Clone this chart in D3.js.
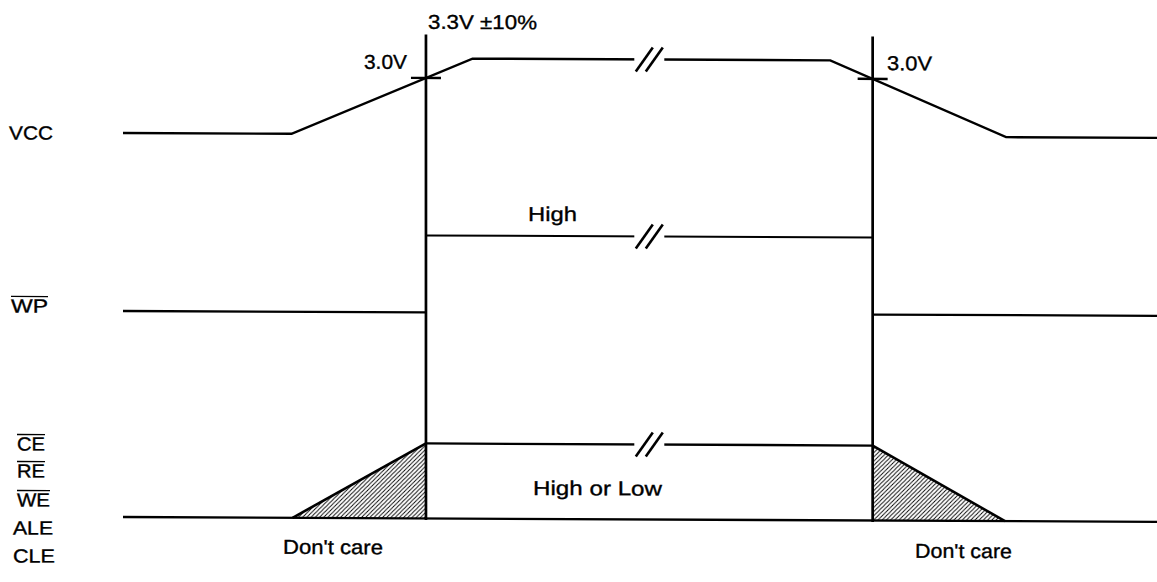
<!DOCTYPE html>
<html>
<head>
<meta charset="utf-8">
<script src="https://cdn.jsdelivr.net/npm/d3@7"></script>
<style>
body{margin:0;background:#fff}
svg text{font-family:"Liberation Sans",Arial,Helvetica,sans-serif;fill:#000;stroke:#000;stroke-width:0.35px}
</style>
</head>
<body>
<div id="chart"></div>
<script>
"use strict"
// signal names, and which ones carry an overbar (active low)
var signalNames=["VCC","WP","CE","RE","WE","ALE","CLE"]
var signalBarred=[false,true,true,true,true,false,false]

// time runs 0..100 (arbitrary units), levels are 0 = low, 1 = high
var powerOnT=29.3
var powerOffT=72.5
var breakT=50.9
var vccTimes=[0,16.3,33.8,68.4,85.4,100]
var vccLevels=[0,0,1,1,0,0]
var wpTimes=[[0,29.3],[29.3,72.5],[72.5,100]]
var wpLevels=[0,1,0]
var ctrlTimes=[[0,100],[29.3,72.5]]
var ctrlLevels=[0,1]
var dontCareTimes=[[16.4,29.3,29.3],[72.5,85.3,72.5]]
var dontCareLevels=[[0,1,0],[1,0,0]]
var annotations=["3.3V \u00b110%","3.0V","3.0V","High","High or Low","Don't care","Don't care"]

// layout
var W=1157,H=582
var rows={vcc:[133,57],wp:[311,234],ctrl:[517,442]}
var labelPos=[[9,140,44],[11,313,37],[17,451,28],[17,478,28],[17,507,33],[13,535,40],[13,563,42]]
var annoPos=[[428,27.3,109],[364,67.5,43],[887,66.5,45],[528,219,49],[533,493,129],[283,553,100],[915,554,97]]

var x=d3.scaleLinear().domain([0,100]).range([123,W])
function rowScale(r){return d3.scaleLinear().domain([0,1]).range(rows[r])}
var yV=rowScale('vcc'),yW=rowScale('wp'),yC=rowScale('ctrl')
var vccAt=d3.scaleLinear().domain(vccTimes).range(vccLevels)

var svg=d3.select('#chart').append('svg').attr('width',W).attr('height',H)
var defs=svg.append('defs')
var pat=defs.append('pattern').attr('id','hatch').attr('patternUnits','userSpaceOnUse').attr('width',4.2).attr('height',4.2)
pat.append('path').attr('d','M-1,1 l2,-2 M0,4.2 l4.2,-4.2 M3.2,5.2 l2,-2').attr('stroke','#000').attr('stroke-width',0.9)

// scanned original is slightly sheared
var k=Math.tan(0.27*Math.PI/180)
var g=svg.append('g').attr('transform','translate(0,'+(-123*k)+') skewY(0.27)')

var line=d3.line()

// don't care triangles
dontCareTimes.forEach(function(ts,i){
  var pts=ts.map(function(t,j){return [x(t),yC(dontCareLevels[i][j])]})
  g.append('path').attr('d',line(pts)+'Z').attr('fill','url(#hatch)').attr('stroke','none')
  var slope=pts.filter(function(p,j){return j<2})
  g.append('path').attr('d',line(slope)).attr('fill','none').attr('stroke','#000').attr('stroke-width',2.6)
})

// VCC
g.append('path').attr('d',line(vccTimes.map(function(t,i){return [x(t),yV(vccLevels[i])]})))
  .attr('fill','none').attr('stroke','#000').attr('stroke-width',2.4)
// WP
wpTimes.forEach(function(ts,i){
  g.append('path').attr('d',line(ts.map(function(t){return [x(t),yW(wpLevels[i])]})))
    .attr('fill','none').attr('stroke','#000').attr('stroke-width',i==1?2:2.3)
})
// control lines
ctrlTimes.forEach(function(ts,i){
  g.append('path').attr('d',line(ts.map(function(t){return [x(t),yC(ctrlLevels[i])]})))
    .attr('fill','none').attr('stroke','#000').attr('stroke-width',2.3)
})

// power on/off markers
;[powerOnT,powerOffT].forEach(function(t){
  g.append('line').attr('x1',x(t)).attr('x2',x(t)).attr('y1',33).attr('y2',yC(0)+1.5)
    .attr('stroke','#000').attr('stroke-width',2.7)
  var yy=yV(vccAt(t))
  g.append('line').attr('x1',x(t)-15).attr('x2',x(t)+15).attr('y1',yy).attr('y2',yy)
    .attr('stroke','#000').attr('stroke-width',2.4)
})

// break marks
;[yV(1),yW(1),yC(1)].forEach(function(yy){
  var cx=x(breakT)
  g.append('rect').attr('x',cx-15).attr('y',yy-3).attr('width',30).attr('height',6).attr('fill','#fff')
  ;[-5,5].forEach(function(o){
    g.append('line').attr('x1',cx+o-8.5).attr('y1',yy+12).attr('x2',cx+o+8.5).attr('y2',yy-12)
      .attr('stroke','#000').attr('stroke-width',2.6)
  })
})

// annotations
annotations.forEach(function(s,i){
  var p=annoPos[i]
  g.append('text').attr('x',p[0]).attr('y',p[1]).attr('font-size',20)
    .attr('textLength',p[2]).attr('lengthAdjust','spacingAndGlyphs').text(s)
})

// signal labels
signalNames.forEach(function(s,i){
  var p=labelPos[i]
  g.append('text').attr('x',p[0]).attr('y',p[1]).attr('font-size',19)
    .attr('textLength',p[2]).attr('lengthAdjust','spacingAndGlyphs').text(s)
  if(signalBarred[i])
    g.append('line').attr('x1',p[0]).attr('x2',p[0]+p[2]).attr('y1',p[1]-16).attr('y2',p[1]-16)
      .attr('stroke','#000').attr('stroke-width',1.3)
})
</script>
</body>
</html>
